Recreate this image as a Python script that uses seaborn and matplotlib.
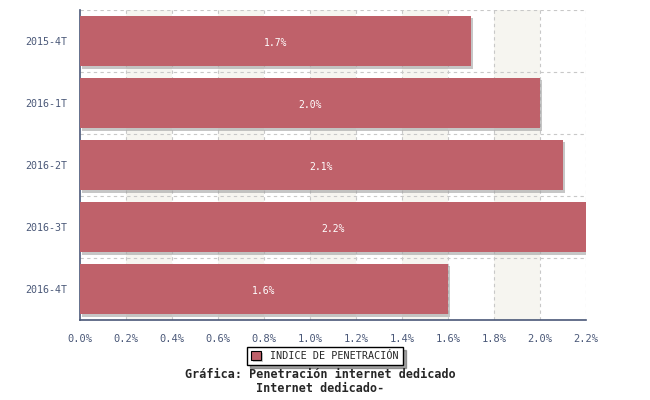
import matplotlib
matplotlib.use("Agg")
import matplotlib.pyplot as plt
import matplotlib.patheffects as pe
import seaborn as sns
import pandas as pd
import numpy as np

periods = ["2015-4T", "2016-1T", "2016-2T", "2016-3T", "2016-4T"]
values = [1.7, 2.0, 2.1, 2.2, 1.6]
series_name = "INDICE DE PENETRACIÓN"

df = pd.DataFrame({"periodo": periods, "valor": values})

sns.set_style("white")
plt.rcParams["font.family"] = ["DejaVu Sans Mono"]
axis_col = "#4a5878"
bar_col = "#bf616a"

fig = plt.figure(figsize=(6.5, 4), dpi=100)
ax = fig.add_axes([80 / 650, 80 / 400, 506 / 650, 310 / 400])

# alternating background bands
for x0 in np.arange(0.2, 2.2, 0.4):
    ax.axvspan(x0, x0 + 0.2, facecolor="#f6f5f0", edgecolor="none", zorder=0)

sns.barplot(data=df, x="valor", y="periodo", color=bar_col, saturation=1,
            width=0.82, ax=ax, zorder=3, label=series_name, linewidth=0)
for p in ax.containers[0]:
    p.set_path_effects([pe.SimplePatchShadow(offset=(1.5, -1.5), shadow_rgbFace="#a0a0a0", alpha=0.6),
                        pe.Normal()])

for i, v in enumerate(values):
    ax.text(v / 2, i + 0.03, f"{v:.1f}%", ha="center", va="center", color="white",
            fontsize=7, zorder=4)

ax.set_xlim(0, 2.2)
ax.set_ylim(len(periods) - 0.5, -0.5)

# grid
for x in np.arange(0.2, 2.21, 0.2):
    ax.axvline(x, color="#c8c8c8", lw=0.8, ls=(0, (3, 3)), zorder=1)
for y in np.arange(-0.5, len(periods), 1.0):
    ax.axhline(y, color="#c8c8c8", lw=0.8, ls=(0, (3, 3)), zorder=1)

ax.set_xticks(np.arange(0, 2.21, 0.2))
ax.set_xticklabels([f"{t:.1f}%" for t in np.arange(0, 2.21, 0.2)])
ax.set_xticks(np.arange(0, 2.21, 0.1), minor=True)
ax.tick_params(axis="x", which="both", direction="in", length=4, color=axis_col,
               labelcolor=axis_col, labelsize=7.5, pad=10)
ax.set_yticks(range(len(periods)))
ax.set_yticklabels(periods)
ax.tick_params(axis="y", which="major", length=0, labelcolor=axis_col, labelsize=7.2, pad=9)
ax.set_yticks(np.arange(-0.5, len(periods), 1.0), minor=True)
ax.tick_params(axis="y", which="minor", direction="out", length=6, color=axis_col)

for s in ["top", "right"]:
    ax.spines[s].set_visible(False)
for s in ["left", "bottom"]:
    ax.spines[s].set_color(axis_col)
    ax.spines[s].set_linewidth(1.2)
ax.set_xlabel("")
ax.set_ylabel("")

leg = ax.legend(loc="center", bbox_to_anchor=(325 / 650, 1 - 356 / 400),
                bbox_transform=fig.transFigure, frameon=True, fancybox=False,
                shadow=True, fontsize=7.3, handlelength=1, handleheight=1,
                borderpad=0.4, handletextpad=0.9, borderaxespad=0)
leg.get_frame().set_edgecolor("black")
leg.get_frame().set_linewidth(1)
for h in leg.legend_handles:
    h.set_edgecolor("black")
    h.set_linewidth(0.8)

fig.text(320 / 650, 1 - 374 / 400, "Gráfica: Penetración internet dedicado",
         ha="center", va="center", fontsize=8.5, fontweight="bold")
fig.text(320 / 650, 1 - 389 / 400, "Internet dedicado-",
         ha="center", va="center", fontsize=8.5, fontweight="bold")

fig.savefig("out.png", dpi=100)
